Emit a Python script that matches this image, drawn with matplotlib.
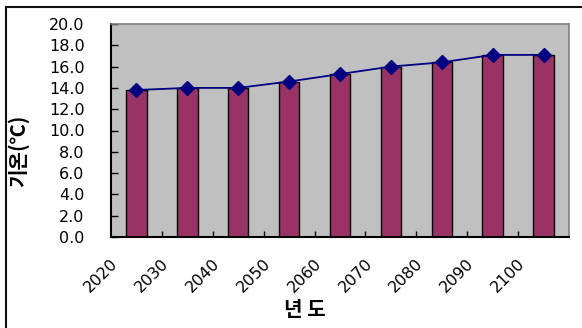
import matplotlib
matplotlib.use("Agg")
import matplotlib.pyplot as plt
from matplotlib.lines import Line2D
from matplotlib.transforms import ScaledTranslation
import numpy as np

# Projected mean temperature by decade
years = ["2020", "2030", "2040", "2050", "2060", "2070", "2080", "2090", "2100"]
temps = [13.8, 14.0, 14.0, 14.6, 15.3, 16.0, 16.4, 17.1, 17.1]
yticks = [0, 2, 4, 6, 8, 10, 12, 14, 16, 18, 20]

KR = ["Noto Sans CJK KR", "DejaVu Sans"]
NUM = "DejaVu Sans"
NUM_SIZE = 11.5

fig = plt.figure(figsize=(5.82, 3.28), dpi=100)
W, H = 582, 328
ax = fig.add_axes([111 / W, 1 - 237 / H, (569 - 111) / W, (237 - 24) / H])
ax.set_facecolor("#C0C0C0")

x = np.arange(len(years))
ax.bar(x, temps, width=0.4, color="#993366", edgecolor="black", linewidth=1.0, zorder=2)
ax.plot(x, temps, color="#000080", linewidth=1.3, marker="D", markersize=7,
        markerfacecolor="#000080", markeredgecolor="#000080", zorder=3)

ax.set_xlim(-0.5, len(years) - 0.5)
ax.set_ylim(0, 20)

# y axis
ax.set_yticks(yticks)
ax.set_yticklabels([f"{v:.1f}" for v in yticks], fontfamily=NUM, fontsize=NUM_SIZE)
ax.tick_params(axis="y", direction="in", length=5, width=1.0, pad=19, color="black")

# x axis: tick marks between categories, labels drawn rotated
ax.set_xticks(x)
ax.set_xticklabels([])
ax.tick_params(axis="x", which="major", length=0)
ax.set_xticks(np.arange(0.5, len(years) - 0.5, 1.0), minor=True)
ax.tick_params(axis="x", which="minor", direction="in", length=4, width=1.0, color="black")

off = ScaledTranslation(-21 / 100, -24 / 100, fig.dpi_scale_trans)
for xi, lab in zip(x, years):
    ax.text(xi, 0, lab, transform=ax.transData + off, rotation=45,
            ha="right", va="center", rotation_mode="anchor",
            fontfamily=NUM, fontsize=NUM_SIZE, clip_on=False)

for side in ("left", "bottom"):
    ax.spines[side].set_color("black")
    ax.spines[side].set_linewidth(1.5)
for side in ("top", "right"):
    ax.spines[side].set_color("#808080")
    ax.spines[side].set_linewidth(1.2)

fig.text(18 / W, 1 - 151 / H, "기온(℃)", rotation=90, ha="center", va="center",
         fontfamily=KR, fontsize=14.5, fontweight="bold")
fig.text(305 / W, 1 - 310 / H, "년 도", ha="center", va="center",
         fontfamily=KR, fontsize=14.5, fontweight="bold")

# chart frame
fig.add_artist(Line2D([6 / W, 6 / W], [0, 1 - 7 / H], transform=fig.transFigure,
                      color="#101010", linewidth=1.5))
fig.add_artist(Line2D([6 / W, 1], [1 - 7 / H, 1 - 7 / H], transform=fig.transFigure,
                      color="#101010", linewidth=1.5))

fig.savefig("out.png", dpi=100)
